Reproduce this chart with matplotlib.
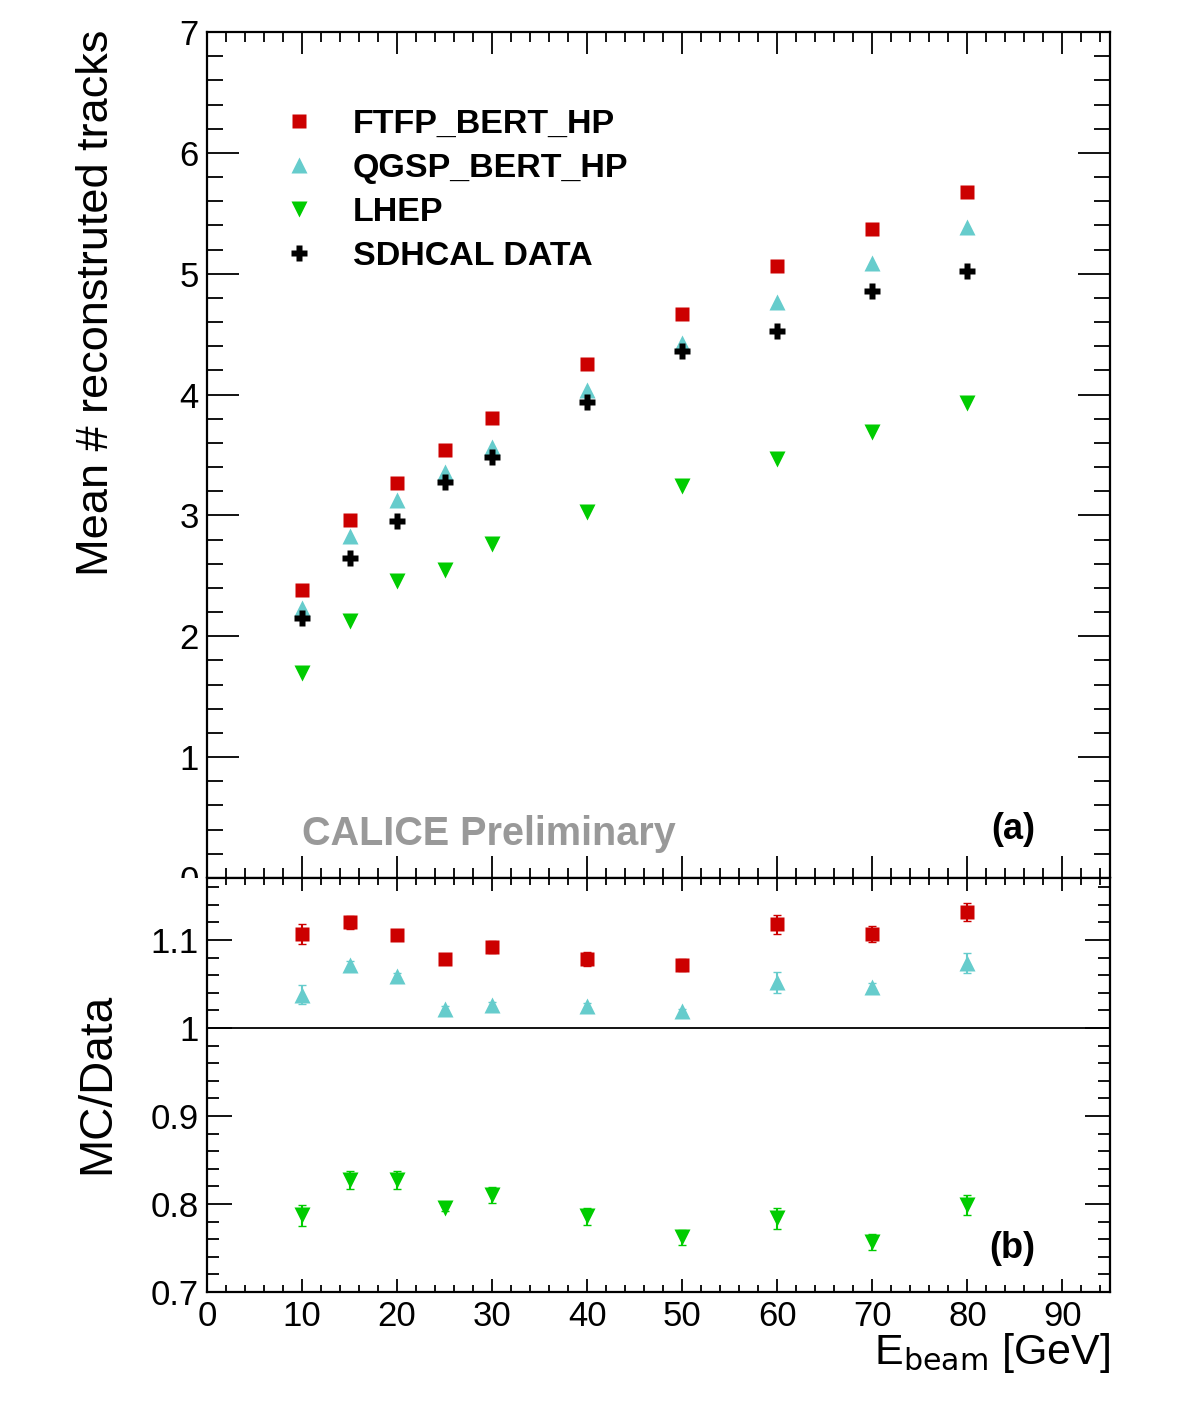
import numpy as np
import matplotlib
matplotlib.use("Agg")
import matplotlib.pyplot as plt
from matplotlib.ticker import MultipleLocator
from matplotlib.patches import Rectangle
from matplotlib.lines import Line2D

# beam energies (GeV)
energy = [10, 15, 20, 25, 30, 40, 50, 60, 70, 80]

# mean number of reconstructed tracks
ftfp = [2.38, 2.96, 3.27, 3.54, 3.81, 4.25, 4.67, 5.06, 5.37, 5.68]
qgsp = [2.23, 2.83, 3.13, 3.36, 3.57, 4.04, 4.43, 4.77, 5.09, 5.39]
lhep = [1.70, 2.13, 2.46, 2.55, 2.76, 3.03, 3.24, 3.47, 3.69, 3.93]
data = [2.15, 2.65, 2.95, 3.28, 3.48, 3.94, 4.36, 4.53, 4.86, 5.02]

# MC / data ratios and their errors
ratio_ftfp = [1.107, 1.120, 1.106, 1.078, 1.092, 1.078, 1.072, 1.118, 1.107, 1.132]
err_ftfp = [0.011, 0.007, 0.003, 0.003, 0.007, 0.008, 0.007, 0.011, 0.009, 0.010]
ratio_qgsp = [1.038, 1.072, 1.059, 1.022, 1.026, 1.025, 1.019, 1.052, 1.047, 1.074]
err_qgsp = [0.011, 0.004, 0.004, 0.003, 0.004, 0.004, 0.003, 0.012, 0.004, 0.011]
ratio_lhep = [0.787, 0.827, 0.827, 0.795, 0.810, 0.786, 0.762, 0.784, 0.757, 0.799]
err_lhep = [0.012, 0.010, 0.010, 0.003, 0.009, 0.010, 0.009, 0.012, 0.009, 0.011]

RED = "#CC0000"
CYAN = "#66CCCC"
GREEN = "#00CC00"

narrow = ["Liberation Sans Narrow", "Liberation Sans", "DejaVu Sans"]
plt.rcParams.update({
    "font.family": narrow,
    "mathtext.fontset": "custom",
    "mathtext.rm": "Liberation Sans Narrow",
    "mathtext.it": "Liberation Sans Narrow",
    "axes.linewidth": 1.6,
})

W, H = 1182, 1417
fig = plt.figure(figsize=(W / 100, H / 100), dpi=100)

def fx(px):
    return px / W

def fy(py):
    return 1 - py / H

ax1 = fig.add_axes([fx(207), fy(878), fx(1110) - fx(207), fy(32) - fy(878)], zorder=0)
ax2 = fig.add_axes([fx(207), fy(1292), fx(1110) - fx(207), fy(878) - fy(1292)], zorder=2)

# white mask so the top pad's "0" label is cut by the lower pad
fig.add_artist(Rectangle((0, 0), 1, fy(878), transform=fig.transFigure,
                         facecolor="white", edgecolor="none", zorder=1))

# ---- top pad ----
ms_sq, ms_tri, ms_plus = 9.5, 12, 11.5
ax1.plot(energy, ftfp, "s", color=RED, ms=ms_sq, mec="none", zorder=3)
ax1.plot(energy, qgsp, "^", color=CYAN, ms=ms_tri, mec="none", zorder=3)
ax1.plot(energy, lhep, "v", color=GREEN, ms=ms_tri, mec="none", zorder=3)
ax1.plot(energy, data, "P", color="black", ms=ms_plus, mec="none", zorder=4)

ax1.set_xlim(0, 95)
ax1.set_ylim(0, 7)
ax1.xaxis.set_major_locator(MultipleLocator(10))
ax1.xaxis.set_minor_locator(MultipleLocator(2))
ax1.yaxis.set_major_locator(MultipleLocator(1))
ax1.yaxis.set_minor_locator(MultipleLocator(0.2))
ax1.tick_params(which="both", direction="in", top=True, right=True,
                labelbottom=False, width=1.3, labelsize=25, pad=6)
ax1.tick_params(axis="y", which="major", length=23)
ax1.tick_params(axis="y", which="minor", length=11.5)
ax1.tick_params(axis="x", which="major", length=16)
ax1.tick_params(axis="x", which="minor", length=7)

handles = [
    Line2D([], [], ls="none", marker="s", color=RED, ms=ms_sq, mec="none"),
    Line2D([], [], ls="none", marker="^", color=CYAN, ms=ms_tri, mec="none"),
    Line2D([], [], ls="none", marker="v", color=GREEN, ms=ms_tri, mec="none"),
    Line2D([], [], ls="none", marker="P", color="black", ms=ms_plus, mec="none"),
]
labels = ["FTFP_BERT_HP", "QGSP_BERT_HP", "LHEP", "SDHCAL DATA"]
ax1.legend(handles, labels, loc="upper left", bbox_to_anchor=(0.068, 0.925),
           frameon=False, handlelength=1.0, handletextpad=1.08,
           labelspacing=0.38, borderaxespad=0,
           prop={"family": "Liberation Sans", "weight": "bold", "size": 24.5})

ax1.text(0.105, 0.052, "CALICE Preliminary", transform=ax1.transAxes,
         family="Liberation Sans", weight="bold", size=28.5, color="#999999",
         ha="left", va="center")
ax1.text(0.893, 0.057, "(a)", transform=ax1.transAxes,
         family="Liberation Sans", weight="bold", size=26, ha="center", va="center")

# ---- ratio pad ----
ax2.axhline(1.0, color="black", lw=1.3, zorder=1)
ax2.errorbar(energy, ratio_ftfp, yerr=err_ftfp, fmt="s", color=RED, ms=ms_sq,
             mec="none", capsize=3, elinewidth=1.5, zorder=3)
ax2.errorbar(energy, ratio_qgsp, yerr=err_qgsp, fmt="^", color=CYAN, ms=ms_tri,
             mec="none", capsize=3, elinewidth=1.5, zorder=3)
ax2.errorbar(energy, ratio_lhep, yerr=err_lhep, fmt="v", color=GREEN, ms=ms_tri,
             mec="none", capsize=3, elinewidth=1.5, zorder=3)

ax2.set_xlim(0, 95)
ax2.set_ylim(0.7, 1.1705)
ax2.xaxis.set_major_locator(MultipleLocator(10))
ax2.xaxis.set_minor_locator(MultipleLocator(2))
ax2.yaxis.set_major_locator(MultipleLocator(0.1))
ax2.yaxis.set_minor_locator(MultipleLocator(0.02))
ax2.tick_params(which="both", direction="in", top=True, right=True,
                width=1.3, labelsize=25, pad=6)
ax2.tick_params(axis="y", which="major", length=18)
ax2.tick_params(axis="y", which="minor", length=8.6)
ax2.tick_params(axis="x", which="major", length=9.4)
ax2.tick_params(axis="x", which="minor", length=5)
ax2.set_yticks([0.7, 0.8, 0.9, 1.0, 1.1])
ax2.set_yticklabels(["0.7", "0.8", "0.9", "1", "1.1"])

ax2.text(0.892, 0.105, "(b)", transform=ax2.transAxes,
         family="Liberation Sans", weight="bold", size=26, ha="center", va="center")

# axis titles
fig.text(fx(1110), fy(1353), r"E$_{\mathrm{beam}}$ [GeV]", ha="right", va="center",
         size=31)
fig.text(fx(97), fy(30), "Mean # reconstruted tracks", rotation=90,
         ha="center", va="top", size=32.5)
fig.text(fx(97), fy(1083), "MC/Data", rotation=90, ha="center", va="center", size=33)

fig.savefig("out.png", dpi=100, facecolor="white")
